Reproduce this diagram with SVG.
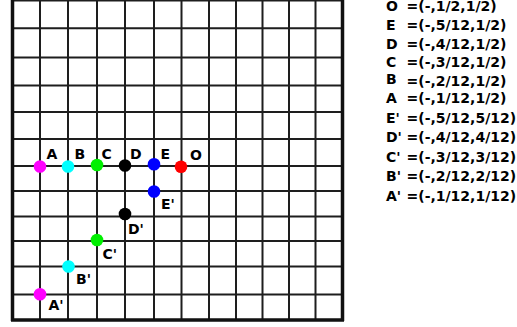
<svg xmlns="http://www.w3.org/2000/svg" width="517" height="327" viewBox="0 0 517 327">
<style>
.g{stroke:#1e1e1e;stroke-width:2;fill:none}
.b{stroke:#111;stroke-width:3.5;fill:none}
text{font-family:"DejaVu Sans",sans-serif;font-weight:bold;font-size:14px;fill:#000}
</style>
<rect width="517" height="327" fill="#fff"/>
<g id="grid">
<path class="g" d="M40 0V320M68 0V320M97 0V320M125 0V320M154 0V320M181.5 0V320M209 0V320M236 0V320M262.5 0V320M289 0V320M315.5 0V320"/>
<path class="g" d="M12 0.5H342M12 28.3H342M12 57.5H342M12 85.5H342M12 112H342M12 139H342M12 166H342M12 191H342M12 216.5H342M12 241H342M12 266.5H342M12 294.5H342"/>
<path class="b" d="M12.5 0V321M342.5 0V321M11 320H344"/>
</g>
<g id="connectors"/>
<g id="A"><circle cx="40" cy="166.5" r="6.3" fill="#ff00ff"/><text x="46.5" y="158.5">A</text></g>
<g id="B"><circle cx="68" cy="166.5" r="6.3" fill="#00ffff"/><text x="74.5" y="158.5">B</text></g>
<g id="C"><circle cx="97" cy="165" r="6.3" fill="#00f000"/><text x="101.5" y="158.5">C</text></g>
<g id="D"><circle cx="125" cy="165.5" r="6.3" fill="#000"/><text x="130" y="158.5">D</text></g>
<g id="E"><circle cx="154" cy="164.3" r="6.3" fill="#0000ff"/><text x="160.5" y="158.5">E</text></g>
<g id="O"><circle cx="181" cy="166.7" r="6.3" fill="#ff0000"/><text x="190" y="160">O</text></g>
<g id="E2"><circle cx="154" cy="191.5" r="6.3" fill="#0000ff"/><text x="161" y="208.5">E'</text></g>
<g id="D2"><circle cx="125" cy="214" r="6.3" fill="#000"/><text x="128" y="234">D'</text></g>
<g id="C2"><circle cx="97" cy="240" r="6.3" fill="#00f000"/><text x="102.5" y="258.5">C'</text></g>
<g id="B2"><circle cx="68.5" cy="266.5" r="6.3" fill="#00ffff"/><text x="76" y="283.5">B'</text></g>
<g id="A2"><circle cx="40" cy="294.3" r="6.3" fill="#ff00ff"/><text x="48.5" y="310">A'</text></g>
<g id="legend">
<text x="386" y="11">O</text><text x="406.5" y="11">=(-,1/2,1/2)</text>
<text x="386" y="29.5">E</text><text x="406.5" y="29.5">=(-,5/12,1/2)</text>
<text x="386" y="48.5">D</text><text x="406.5" y="48.5">=(-,4/12,1/2)</text>
<text x="386" y="67">C</text><text x="406.5" y="67">=(-,3/12,1/2)</text>
<text x="386" y="83.5">B</text><text x="406.5" y="85.5">=(-,2/12,1/2)</text>
<text x="386" y="102.5">A</text><text x="406.5" y="102.5">=(-,1/12,1/2)</text>
<text x="386" y="122.5">E'</text><text x="406.5" y="122.5">=(-,5/12,5/12)</text>
<text x="386" y="142">D'</text><text x="406.5" y="142">=(-,4/12,4/12)</text>
<text x="386" y="161.5">C'</text><text x="406.5" y="161.5">=(-,3/12,3/12)</text>
<text x="386" y="181">B'</text><text x="406.5" y="181">=(-,2/12,2/12)</text>
<text x="386" y="201">A'</text><text x="406.5" y="201">=(-,1/12,1/12)</text>
</g>
</svg>
